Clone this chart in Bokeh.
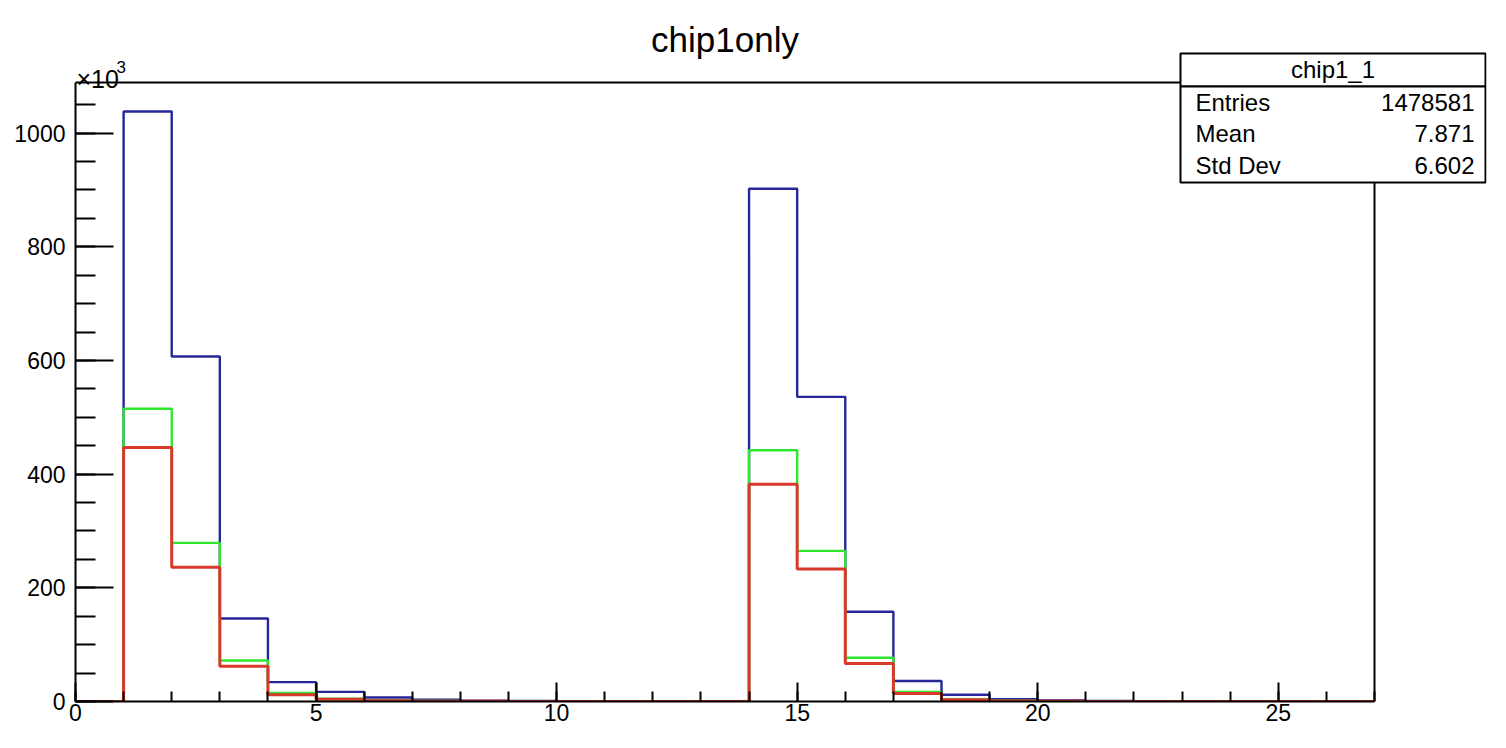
from bokeh.plotting import figure
from bokeh.models import FixedTicker, Range1d, Label, BoxAnnotation
from bokeh.embed import file_html
from bokeh.resources import INLINE

# ---------------- data ----------------
bin_edges = list(range(28))
blue_vals = [0, 1038, 607, 146, 34, 17, 7, 3, 1.5, 1, 0.5, 0.3, 0.2, 0.1,
             902, 536, 158, 36, 12, 4, 2, 1, 0.5, 0.3, 0.2, 0.1, 0]
green_vals = [0, 515, 279, 72, 15, 5, 2, 1, 0.5, 0.2, 0.1, 0, 0, 0,
              442, 265, 77, 17, 4, 1.5, 0.5, 0.2, 0.1, 0, 0, 0, 0]
red_vals = [0, 447, 236, 62, 12, 4, 1.5, 0.6, 0.3, 0.1, 0, 0, 0, 0,
            382, 233, 67, 14, 3, 1, 0.4, 0.1, 0, 0, 0, 0, 0]
title_text = "chip1only"
stat_name = "chip1_1"
stat_labels = ["Entries", "Mean", "Std Dev"]
stat_values = ["1478581", "7.871", "6.602"]
x_major = [0, 5, 10, 15, 20, 25]
x_minor = list(range(28))
y_major = [0, 200, 400, 600, 800, 1000]
y_minor = list(range(0, 1100, 50))

FONT = "Liberation Sans"
W, H = 1490, 732
XMAX, YMAX = 27, 1089          # axis limits

# frame geometry (canvas px): the frame covers the whole drawing area,
# the axes themselves span only [0, XMAX] x [0, YMAX]
FL, FR, FT, FB = 75, W - 4, 0, H - 31
AX_R, AX_T = 1374, 82           # pixel position of XMAX / YMAX
sx = (AX_R - FL) / XMAX
sy = (FB - AX_T) / YMAX
x_end = (FR - FL) / sx
y_end = (FB - FT) / sy

def dx(px):
    return (px - FL) / sx

def dy(py):
    return (FB - py) / sy

p = figure(width=W, height=H, output_backend="svg", toolbar_location=None,
           x_range=Range1d(0, x_end), y_range=Range1d(0, y_end),
           min_border_left=FL, min_border_right=W - FR, min_border_top=FT,
           min_border_bottom=H - FB)
p.background_fill_color = "white"
p.border_fill_color = "white"
p.outline_line_color = None
p.xgrid.visible = False
p.ygrid.visible = False

# top and right sides of the axis box
p.segment(x0=[0, XMAX], y0=[YMAX, 0], x1=[XMAX, XMAX], y1=[YMAX, YMAX],
          line_color="black", line_width=2)

for vals, col, lw in [(blue_vals, "#262699", 2.4), (green_vals, "#2ee62e", 2.4),
                      (red_vals, "#d8392b", 3)]:
    p.step(x=bin_edges, y=vals + [vals[-1]], mode="after", line_color=col,
           line_width=lw)

for ax in (p.xaxis[0], p.yaxis[0]):
    ax.axis_line_width = 2
    ax.axis_line_color = "black"
    ax.major_tick_line_width = 2
    ax.minor_tick_line_width = 2
    ax.major_tick_out = 0
    ax.minor_tick_out = 0
    ax.major_label_text_font = FONT
    ax.major_label_text_font_size = "23px"
    ax.major_label_text_color = "black"

p.xaxis.bounds = (0, XMAX)
p.yaxis.bounds = (0, YMAX)
p.xaxis.ticker = FixedTicker(ticks=x_major, minor_ticks=x_minor)
p.xaxis.major_tick_in = 19
p.xaxis.minor_tick_in = 10
p.xaxis.major_label_standoff = 2
p.yaxis.ticker = FixedTicker(ticks=y_major, minor_ticks=y_minor)
p.yaxis.major_tick_in = 38
p.yaxis.minor_tick_in = 20
p.yaxis.major_label_standoff = 10

# title
p.add_layout(Label(x=XMAX / 2, y=dy(39), text=title_text,
                   text_align="center", text_baseline="alphabetic",
                   text_font=FONT, text_font_size="35px", text_color="black"))
# x10^3 exponent
p.add_layout(Label(x=dx(76), y=dy(78), text="×10",
                   text_align="left", text_baseline="alphabetic",
                   text_font=FONT, text_font_size="25px", text_color="black"))
p.add_layout(Label(x=dx(116), y=dy(66), text="3",
                   text_align="left", text_baseline="alphabetic",
                   text_font=FONT, text_font_size="17px", text_color="black"))

# statistics box
bl, br, bt, bm, bb = dx(1180), dx(FR - 1), dy(53), dy(86), dy(182)
for top, bottom in [(bt, bm), (bm, bb)]:
    p.add_layout(BoxAnnotation(left=bl, right=br, top=top, bottom=bottom,
                               fill_color="white", fill_alpha=1,
                               line_color="black", line_width=2, line_alpha=1,
                               level="overlay"))
p.add_layout(Label(x=(bl + br) / 2, y=dy(69), text=stat_name, text_align="center",
                   text_baseline="middle", text_font=FONT, text_font_size="24px",
                   text_color="black", level="overlay"))
row_y = [102, 133, 165]
for lab, val, ry in zip(stat_labels, stat_values, row_y):
    p.add_layout(Label(x=dx(1195), y=dy(ry), text=lab, text_align="left",
                       text_baseline="middle", text_font=FONT, text_font_size="24px",
                       text_color="black", level="overlay"))
    p.add_layout(Label(x=dx(FR - 12), y=dy(ry), text=val, text_align="right",
                       text_baseline="middle", text_font=FONT, text_font_size="24px",
                       text_color="black", level="overlay"))

open("out.html", "w").write(file_html(p, INLINE))
